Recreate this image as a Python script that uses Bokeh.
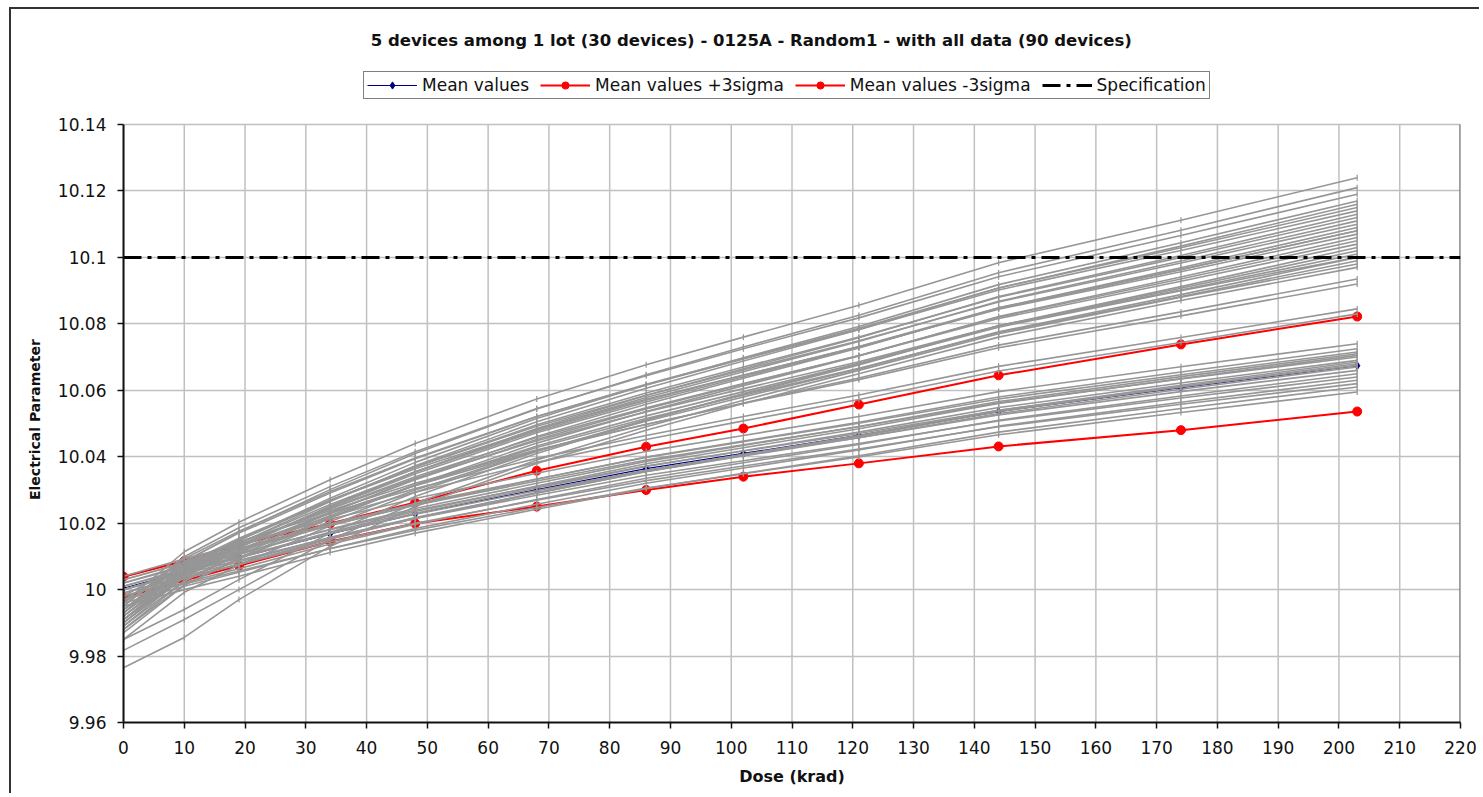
import numpy as np
from bokeh.plotting import figure
from bokeh.models import Range1d, FixedTicker, CustomJSTickFormatter, Legend, LegendItem, Label
from bokeh.embed import file_html
from bokeh.resources import INLINE

TITLE = "5 devices among 1 lot (30 devices) - 0125A - Random1 - with all data (90 devices)"

dose = [0, 10, 19, 34, 48, 68, 86, 102, 121, 144, 174, 203]

mean_values = [10.0004, 10.0054, 10.0096, 10.0168, 10.0228, 10.0301, 10.0364, 10.0410, 10.0464, 10.0536, 10.0608, 10.0674]
mean_plus_3sigma = [10.0039, 10.0086, 10.0136, 10.0199, 10.0262, 10.0358, 10.0430, 10.0485, 10.0557, 10.0645, 10.0738, 10.0822]
mean_minus_3sigma = [9.9976, 10.0027, 10.0072, 10.0145, 10.0199, 10.0250, 10.0300, 10.0340, 10.0380, 10.0431, 10.0480, 10.0536]
specification = 10.1

x_ticks = [0, 10, 20, 30, 40, 50, 60, 70, 80, 90, 100, 110, 120, 130, 140, 150, 160, 170, 180, 190, 200, 210, 220]
y_ticks = [9.96, 9.98, 10.0, 10.02, 10.04, 10.06, 10.08, 10.1, 10.12, 10.14]

# upper group of devices (strong drift)
devices_upper = [
    [9.9960, 10.0114, 10.0203, 10.0331, 10.0440, 10.0574, 10.0677, 10.0760, 10.0856, 10.0984, 10.1112, 10.1240],
    [9.9930, 10.0084, 10.0173, 10.0301, 10.0410, 10.0544, 10.0647, 10.0730, 10.0826, 10.0954, 10.1082, 10.1210],
    [9.9950, 10.0099, 10.0186, 10.0310, 10.0415, 10.0545, 10.0644, 10.0725, 10.0818, 10.0942, 10.1066, 10.1190],
    [9.9910, 10.0061, 10.0149, 10.0275, 10.0383, 10.0515, 10.0616, 10.0698, 10.0792, 10.0918, 10.1044, 10.1170],
    [9.9940, 10.0085, 10.0170, 10.0291, 10.0394, 10.0521, 10.0618, 10.0696, 10.0787, 10.0908, 10.1029, 10.1150],
    [9.9890, 10.0039, 10.0126, 10.0250, 10.0355, 10.0485, 10.0584, 10.0665, 10.0758, 10.0882, 10.1006, 10.1130],
    [9.9920, 10.0064, 10.0148, 10.0268, 10.0370, 10.0496, 10.0592, 10.0670, 10.0760, 10.0880, 10.1000, 10.1120],
    [9.9900, 10.0045, 10.0130, 10.0251, 10.0354, 10.0481, 10.0578, 10.0656, 10.0747, 10.0868, 10.0989, 10.1110],
    [9.9930, 10.0070, 10.0152, 10.0269, 10.0369, 10.0492, 10.0585, 10.0661, 10.0749, 10.0866, 10.0983, 10.1100],
    [9.9880, 10.0025, 10.0110, 10.0231, 10.0334, 10.0461, 10.0558, 10.0636, 10.0727, 10.0848, 10.0969, 10.1090],
    [9.9910, 10.0050, 10.0132, 10.0249, 10.0349, 10.0472, 10.0565, 10.0641, 10.0729, 10.0846, 10.0963, 10.1080],
    [9.9940, 10.0076, 10.0155, 10.0268, 10.0364, 10.0482, 10.0573, 10.0646, 10.0731, 10.0844, 10.0957, 10.1070],
    [9.9870, 10.0013, 10.0096, 10.0215, 10.0316, 10.0441, 10.0536, 10.0614, 10.0703, 10.0822, 10.0941, 10.1060],
    [9.9900, 10.0038, 10.0119, 10.0234, 10.0331, 10.0452, 10.0544, 10.0619, 10.0705, 10.0820, 10.0935, 10.1050],
    [9.9920, 10.0054, 10.0133, 10.0245, 10.0340, 10.0458, 10.0547, 10.0620, 10.0704, 10.0816, 10.0928, 10.1040],
    [9.9850, 9.9992, 10.0074, 10.0192, 10.0293, 10.0416, 10.0511, 10.0588, 10.0676, 10.0794, 10.0912, 10.1030],
    [9.9890, 10.0026, 10.0105, 10.0218, 10.0314, 10.0432, 10.0523, 10.0596, 10.0681, 10.0794, 10.0907, 10.1020],
    [9.9930, 10.0060, 10.0135, 10.0243, 10.0335, 10.0448, 10.0535, 10.0605, 10.0686, 10.0794, 10.0902, 10.1010],
    [9.9880, 10.0014, 10.0093, 10.0205, 10.0300, 10.0418, 10.0507, 10.0580, 10.0664, 10.0776, 10.0888, 10.1000],
    [9.9910, 10.0040, 10.0115, 10.0223, 10.0315, 10.0428, 10.0515, 10.0585, 10.0666, 10.0774, 10.0882, 10.0990],
    [9.9817, 9.9910, 10.0000, 10.0150, 10.0260, 10.0390, 10.0490, 10.0570, 10.0660, 10.0770, 10.0880, 10.0980],
    [9.9765, 9.9856, 9.9970, 10.0130, 10.0250, 10.0380, 10.0480, 10.0560, 10.0650, 10.0760, 10.0870, 10.0970],
    [9.9850, 9.9940, 10.0030, 10.0170, 10.0280, 10.0410, 10.0510, 10.0590, 10.0680, 10.0790, 10.0900, 10.1000],
    [9.9900, 10.0051, 10.0139, 10.0265, 10.0373, 10.0505, 10.0606, 10.0688, 10.0782, 10.0908, 10.1034, 10.1160],
    [9.9950, 10.0093, 10.0176, 10.0295, 10.0396, 10.0521, 10.0616, 10.0694, 10.0783, 10.0902, 10.1021, 10.1140],
    [9.9920, 10.0059, 10.0140, 10.0256, 10.0355, 10.0477, 10.0570, 10.0645, 10.0732, 10.0848, 10.0964, 10.1080],
]

# a few devices in between
devices_middle = [
    [9.9940, 10.0059, 10.0129, 10.0229, 10.0313, 10.0418, 10.0497, 10.0562, 10.0637, 10.0736, 10.0836, 10.0935],
    [9.9960, 10.0075, 10.0142, 10.0238, 10.0320, 10.0421, 10.0498, 10.0560, 10.0632, 10.0728, 10.0824, 10.0920],
    [9.9980, 10.0084, 10.0144, 10.0231, 10.0304, 10.0395, 10.0464, 10.0521, 10.0586, 10.0672, 10.0759, 10.0845],
    [9.9970, 10.0073, 10.0133, 10.0219, 10.0293, 10.0383, 10.0452, 10.0508, 10.0572, 10.0658, 10.0744, 10.0830],
]

# lower group of devices (weak drift)
devices_lower = [
    [10.0040, 10.0093, 10.0136, 10.0212, 10.0274, 10.0350, 10.0416, 10.0464, 10.0521, 10.0596, 10.0671, 10.0740],
    [10.0020, 10.0073, 10.0117, 10.0193, 10.0255, 10.0332, 10.0399, 10.0447, 10.0504, 10.0580, 10.0655, 10.0725],
    [10.0010, 10.0063, 10.0106, 10.0182, 10.0244, 10.0320, 10.0386, 10.0434, 10.0491, 10.0566, 10.0641, 10.0710],
    [10.0030, 10.0080, 10.0122, 10.0194, 10.0254, 10.0327, 10.0390, 10.0436, 10.0490, 10.0562, 10.0634, 10.0700],
    [10.0000, 10.0052, 10.0095, 10.0169, 10.0230, 10.0306, 10.0371, 10.0418, 10.0474, 10.0548, 10.0622, 10.0690],
    [9.9980, 10.0033, 10.0076, 10.0152, 10.0214, 10.0290, 10.0356, 10.0404, 10.0461, 10.0536, 10.0611, 10.0680],
    [10.0020, 10.0069, 10.0110, 10.0180, 10.0239, 10.0310, 10.0372, 10.0417, 10.0470, 10.0540, 10.0610, 10.0675],
    [9.9990, 10.0041, 10.0083, 10.0157, 10.0217, 10.0291, 10.0355, 10.0402, 10.0457, 10.0530, 10.0603, 10.0670],
    [10.0010, 10.0059, 10.0099, 10.0169, 10.0227, 10.0298, 10.0359, 10.0404, 10.0457, 10.0526, 10.0596, 10.0660],
    [9.9970, 10.0021, 10.0063, 10.0137, 10.0197, 10.0271, 10.0335, 10.0382, 10.0437, 10.0510, 10.0583, 10.0650],
    [10.0000, 10.0048, 10.0088, 10.0157, 10.0214, 10.0284, 10.0344, 10.0388, 10.0440, 10.0508, 10.0577, 10.0640],
    [9.9960, 10.0010, 10.0052, 10.0124, 10.0184, 10.0257, 10.0320, 10.0366, 10.0420, 10.0492, 10.0564, 10.0630],
    [9.9990, 10.0037, 10.0076, 10.0144, 10.0200, 10.0269, 10.0328, 10.0372, 10.0423, 10.0490, 10.0558, 10.0620],
    [9.9950, 10.0000, 10.0040, 10.0112, 10.0170, 10.0242, 10.0304, 10.0350, 10.0403, 10.0474, 10.0545, 10.0610],
    [9.9970, 10.0017, 10.0056, 10.0123, 10.0179, 10.0247, 10.0306, 10.0349, 10.0399, 10.0466, 10.0533, 10.0595],
    [10.0030, 10.0081, 10.0124, 10.0198, 10.0259, 10.0333, 10.0398, 10.0445, 10.0501, 10.0574, 10.0647, 10.0715],
    [9.9980, 10.0033, 10.0077, 10.0153, 10.0215, 10.0292, 10.0359, 10.0407, 10.0464, 10.0540, 10.0615, 10.0685],
    [10.0000, 10.0053, 10.0097, 10.0173, 10.0235, 10.0312, 10.0379, 10.0427, 10.0484, 10.0560, 10.0635, 10.0705],
]

FONT = "DejaVu Sans"
GRAY = "#969696"
GRID = "#c0c0c0"

# The frame reaches the top of the canvas so that the title and legend (annotations)
# can be drawn above the 10.14 gridline; vertical grid lines and the axis stop at 10.14.
Y_TOP_VIEW = 10.17462

p = figure(width=1470, height=786, output_backend="svg", toolbar_location=None,
           x_range=Range1d(x_ticks[0], x_ticks[-1]), y_range=Range1d(y_ticks[0], Y_TOP_VIEW),
           min_border_left=112, min_border_right=21, min_border_top=0, min_border_bottom=73,
           background_fill_color="white", border_fill_color="white")
p.styles = {"margin-left": "9px", "margin-top": "7px",
            "border-left": "2px solid #333333", "border-top": "2px solid #333333"}
p.outline_line_color = None

# title
title = Label(x=103.3, y=10.1653, text=TITLE, text_align="center", text_baseline="middle",
              text_font=FONT, text_font_size="16.5px", text_font_style="bold", text_color="#111111")
p.add_layout(title)

# axes
p.xaxis.ticker = FixedTicker(ticks=x_ticks)
p.yaxis.ticker = FixedTicker(ticks=y_ticks)
p.yaxis.bounds = (y_ticks[0], y_ticks[-1])
p.yaxis.formatter = CustomJSTickFormatter(code="return (Math.round(tick*100)/100).toString();")
for ax in (p.xaxis[0], p.yaxis[0]):
    ax.axis_line_color = "#111111"
    ax.axis_line_width = 2
    ax.major_tick_line_color = "#111111"
    ax.major_tick_line_width = 1.5
    ax.major_tick_in = 0
    ax.major_tick_out = 6
    ax.minor_tick_line_color = None
    ax.major_label_text_font = FONT
    ax.major_label_text_font_size = "17px"
    ax.major_label_text_color = "#111111"
    ax.axis_label_text_font = FONT
    ax.axis_label_text_font_style = "bold"
    ax.axis_label_text_color = "#111111"
p.xaxis.axis_label = "Dose (krad)"
p.xaxis.axis_label_text_font_size = "16px"
p.xaxis.major_label_standoff = 12
p.xaxis.axis_label_standoff = 10
# trailing no-break spaces move the visible label down to the middle of the data area
p.yaxis.axis_label = "Electrical Parameter" + "\u00a0" * 22
p.yaxis.axis_label_text_font_size = "14px"
p.yaxis.major_label_standoff = 11
p.yaxis.axis_label_standoff = 12

# grid: horizontal lines from the y axis ticks, vertical lines drawn only over the data area
p.xgrid.visible = False
p.ygrid.grid_line_color = GRID
p.ygrid.grid_line_width = 1.5
p.segment(x0=x_ticks, y0=[y_ticks[0]] * len(x_ticks), x1=x_ticks, y1=[y_ticks[-1]] * len(x_ticks),
          line_color=GRID, line_width=1.5)
p.segment(x0=[x_ticks[-1]], y0=[y_ticks[0]], x1=[x_ticks[-1]], y1=[y_ticks[-1]],
          line_color="#808080", line_width=2.5)

# mean and +/- 3 sigma
r_mean_l = p.line(dose, mean_values, line_color="#000080", line_width=1.2)
r_mean_m = p.scatter(dose, mean_values, marker="diamond", size=8, fill_color="#000080", line_color="#000080")
r_p_l = p.line(dose, mean_plus_3sigma, line_color="#ff0000", line_width=2)
r_p_m = p.scatter(dose, mean_plus_3sigma, marker="circle", size=9, fill_color="#ff0000", line_color="#ff0000")
r_m_l = p.line(dose, mean_minus_3sigma, line_color="#ff0000", line_width=2)
r_m_m = p.scatter(dose, mean_minus_3sigma, marker="circle", size=9, fill_color="#ff0000", line_color="#ff0000")

# all devices
all_devices = devices_upper + devices_middle + devices_lower
p.multi_line([dose] * len(all_devices), all_devices, line_color=GRAY, line_width=1.6)
xs = np.concatenate([dose for _ in all_devices])
ys = np.concatenate(all_devices)
p.scatter(xs, ys, marker="dash", angle=np.pi / 2, size=6, line_color=GRAY, line_width=1.2)

# specification
spec_x = [x_ticks[0], x_ticks[-1]]
r_spec = p.line(spec_x, [specification, specification], line_color="#000000", line_width=3, line_dash="18 6 4 6")

legend = Legend(items=[
    LegendItem(label="Mean values", renderers=[r_mean_l, r_mean_m]),
    LegendItem(label="Mean values +3sigma", renderers=[r_p_l, r_p_m]),
    LegendItem(label="Mean values -3sigma", renderers=[r_m_l, r_m_m]),
    LegendItem(label="Specification", renderers=[r_spec]),
], orientation="horizontal", location=(240, 623))
legend.label_text_font = FONT
legend.label_text_font_size = "17px"
legend.label_text_color = "#111111"
legend.glyph_width = 50
legend.glyph_height = 18
legend.label_height = 18
legend.label_standoff = 5
legend.spacing = 11
legend.padding = 3
legend.margin = 0
legend.border_line_color = "#000000"
legend.border_line_width = 1.5
legend.background_fill_color = "white"
legend.background_fill_alpha = 1
p.add_layout(legend, "center")

open("out.html", "w").write(file_html(p, INLINE))
